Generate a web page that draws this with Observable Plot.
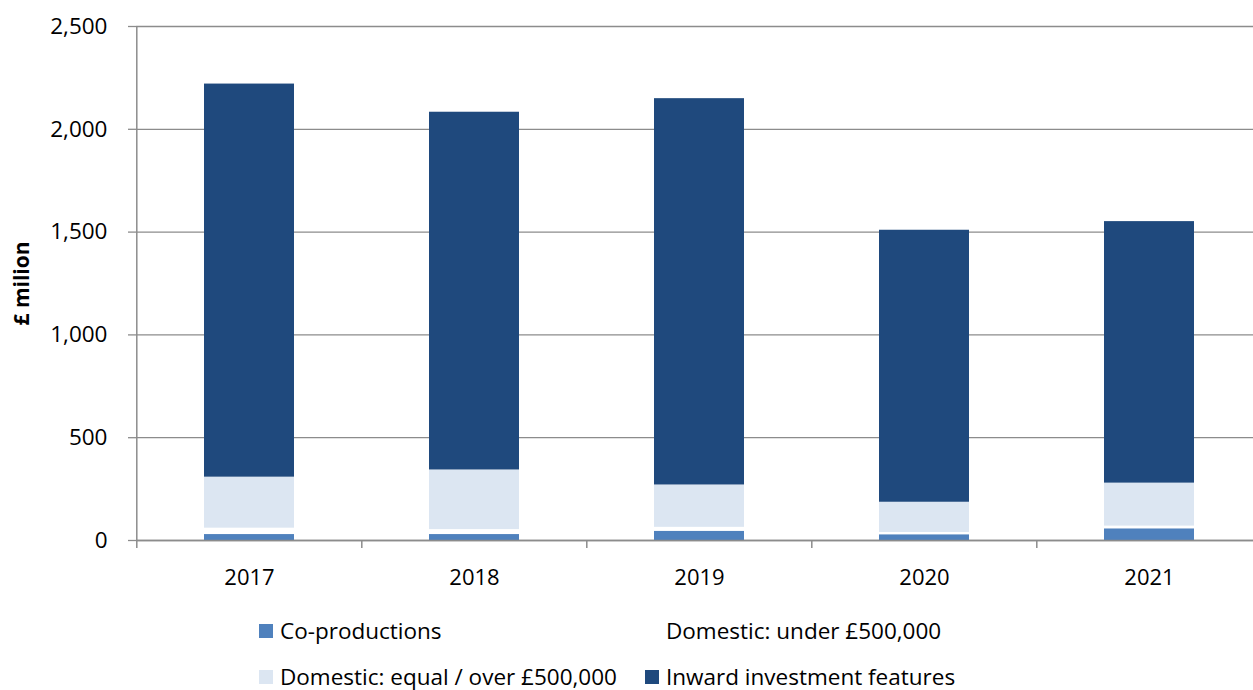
<!DOCTYPE html>
<html>
<head>
<meta charset="utf-8">
<script src="https://cdn.jsdelivr.net/npm/d3@7"></script>
<script src="https://cdn.jsdelivr.net/npm/@observablehq/plot@0.6"></script>
<style>
  html, body { margin: 0; padding: 0; background: #fff; overflow: hidden; }
  #chart svg { display: block; }
  #legend { position: relative; height: 90px; font-family: "Open Sans", sans-serif; font-size: 22.5px; color: #000; }
  .item { position: absolute; height: 24px; line-height: 24px; display: flex; align-items: center; white-space: nowrap; }
  .sw { width: 14px; height: 14px; margin-right: 7px; flex: none; }
</style>
</head>
<body>
<div id="chart"></div>
<div id="legend"></div>
<script>
const years = ["2017", "2018", "2019", "2020", "2021"];
const seriesNames = ["Co-productions", "Domestic: under £500,000", "Domestic: equal / over £500,000", "Inward investment features"];
const coProductions = [29, 29, 45, 28, 57];
const domesticUnder = [31, 24, 19, 11, 13];
const domesticOver = [248, 290, 206, 147, 209];
const inwardInvestment = [1912, 1740, 1879, 1323, 1272];
const seriesColors = ["#4F81BD", "#FFFFFF", "#DCE6F2", "#1F497D"];
const yTicks = [0, 500, 1000, 1500, 2000, 2500];

const seriesValues = [coProductions, domesticUnder, domesticOver, inwardInvestment];
const data = [];
seriesNames.forEach((s, i) => years.forEach((y, j) => data.push({series: s, year: y, value: seriesValues[i][j]})));

const W = 1253, H = 600, ML = 136, MR = -10;
const step = (W - MR - ML) / years.length;
const grey = "#8c8c8c";

const chart = Plot.plot({
  width: W, height: H,
  marginLeft: ML, marginRight: MR, marginTop: 26, marginBottom: H - 540,
  style: {fontFamily: "Open Sans, sans-serif", fontSize: "22px", color: "#000", background: "#fff"},
  x: {domain: years, paddingInner: 0.6, paddingOuter: 0.3, label: null},
  y: {domain: [0, 2500], label: null},
  color: {domain: seriesNames, range: seriesColors},
  marks: [
    Plot.gridY(yTicks, {stroke: grey, strokeOpacity: 1, strokeWidth: 1.3}),
    Plot.barY(data, {x: "year", y: "value", fill: "series"}),
    Plot.ruleY([0], {stroke: grey, strokeWidth: 1.5}),
    Plot.ruleX([years[0]], {x: d => d, dx: -step / 2, y1: 0, y2: 2500, stroke: grey, strokeWidth: 1.5}),
    Plot.axisY(yTicks, {tickSize: 8, tickPadding: 21, tickFormat: d3.format(","), stroke: grey, strokeWidth: 1.3, fontSize: 22.5, label: null}),
    Plot.axisX({tickSize: 0, tickPadding: 29, fontSize: 22, label: null}),
    Plot.axisX({tickSize: 8, text: null, dx: -step / 2, stroke: grey, strokeWidth: 1.5, label: null}),
    Plot.text(["£ milion"], {text: d => d, frameAnchor: "left", textAnchor: "middle", rotate: -90, dx: -114, fontWeight: "bold", fontSize: 21})
  ]
});
document.getElementById("chart").appendChild(chart);

const legend = document.getElementById("legend");
const positions = [[259, 31], [645, 31], [259, 77], [645, 77]];
seriesNames.forEach((s, i) => {
  const it = document.createElement("div");
  it.className = "item";
  it.style.left = positions[i][0] + "px";
  it.style.top = (positions[i][1] - 12) + "px";
  const sw = document.createElement("span");
  sw.className = "sw";
  sw.style.background = seriesColors[i];
  it.appendChild(sw);
  const t = document.createElement("span");
  t.textContent = s;
  it.appendChild(t);
  legend.appendChild(it);
});
</script>
</body>
</html>
